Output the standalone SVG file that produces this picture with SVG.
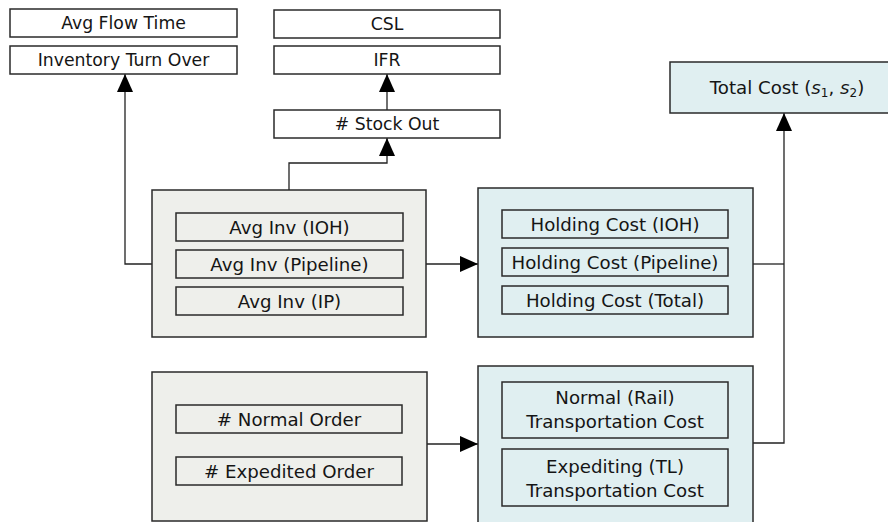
<svg xmlns="http://www.w3.org/2000/svg" width="888" height="522" viewBox="0 0 888 522">
<style>
.t{font-family:"DejaVu Sans","Liberation Sans",sans-serif;font-size:17.3px;fill:#151515;text-anchor:middle}
.i{font-size:18.2px}
.box{fill:#ffffff;stroke:#2a2a2a;stroke-width:1.5}
.gray{fill:#eeefeb;stroke:#2a2a2a;stroke-width:1.5}
.blue{fill:#e0eff1;stroke:#2a2a2a;stroke-width:1.5}
.inG{fill:#eeefeb;stroke:#2a2a2a;stroke-width:1.5}
.inB{fill:#e0eff1;stroke:#2a2a2a;stroke-width:1.5}
.c{fill:none;stroke:#222;stroke-width:1.3}
</style>
<defs>
<marker id="ah" markerUnits="userSpaceOnUse" markerWidth="18" markerHeight="16" refX="18" refY="8" orient="auto">
<path d="M0,0 L18,8 L0,16 Z" fill="#000"/>
</marker>
</defs>
<rect width="888" height="522" fill="#ffffff"/>
<g id="connectors">
<path class="c" d="M387,110 V74" marker-end="url(#ah)"/>
<path class="c" d="M289,190 V163 H387 V138" marker-end="url(#ah)"/>
<path class="c" d="M152,264 H125 V74" marker-end="url(#ah)"/>
<path class="c" d="M426,264 H478" marker-end="url(#ah)"/>
<path class="c" d="M427,444 H478" marker-end="url(#ah)"/>
<path class="c" d="M753,264 H784"/>
<path class="c" d="M753,443 H784 V113" marker-end="url(#ah)"/>
</g>
<g id="avg-flow-time"><rect class="box" x="10" y="9" width="227" height="28"/><text class="t" x="123.5" y="29">Avg Flow Time</text></g>
<g id="inventory-turn-over"><rect class="box" x="10" y="46" width="227" height="28"/><text class="t" x="123.5" y="66">Inventory Turn Over</text></g>
<g id="csl"><rect class="box" x="274" y="10" width="226" height="28"/><text class="t" x="387" y="30">CSL</text></g>
<g id="ifr"><rect class="box" x="274" y="46" width="226" height="28"/><text class="t" x="387" y="66">IFR</text></g>
<g id="stock-out"><rect class="box" x="274" y="110" width="226" height="28"/><text class="t" x="387" y="130"># Stock Out</text></g>
<g id="total-cost"><rect class="blue" x="670" y="62" width="230" height="51"/><text class="t i" x="787" y="94">Total Cost (<tspan font-style="italic">s</tspan><tspan font-size="12" dy="3">1</tspan><tspan dy="-3">, </tspan><tspan font-style="italic">s</tspan><tspan font-size="12" dy="3">2</tspan><tspan dy="-3">)</tspan></text></g>
<g id="inventory-group">
<rect class="gray" x="152" y="190" width="274" height="147"/>
<rect class="inG" x="176" y="213" width="227" height="28"/><text class="t i" x="289.5" y="233.5">Avg Inv (IOH)</text>
<rect class="inG" x="176" y="250" width="227" height="28"/><text class="t i" x="289.5" y="270.5">Avg Inv (Pipeline)</text>
<rect class="inG" x="176" y="287" width="227" height="28"/><text class="t i" x="289.5" y="307.5">Avg Inv (IP)</text>
</g>
<g id="holding-cost-group">
<rect class="blue" x="478" y="188" width="275" height="149"/>
<rect class="inB" x="502" y="210" width="226" height="28"/><text class="t i" x="615" y="230.5">Holding Cost (IOH)</text>
<rect class="inB" x="502" y="248" width="226" height="28"/><text class="t i" x="615" y="268.5">Holding Cost (Pipeline)</text>
<rect class="inB" x="502" y="286" width="226" height="28"/><text class="t i" x="615" y="306.5">Holding Cost (Total)</text>
</g>
<g id="order-group">
<rect class="gray" x="152" y="372" width="275" height="149"/>
<rect class="inG" x="176" y="405" width="226" height="28"/><text class="t i" x="289" y="425.5"># Normal Order</text>
<rect class="inG" x="176" y="457" width="226" height="28"/><text class="t i" x="289" y="477.5"># Expedited Order</text>
</g>
<g id="transport-cost-group">
<rect class="blue" x="478" y="366" width="275" height="160"/>
<rect class="inB" x="502" y="382" width="226" height="56"/><text class="t i" x="615" y="404">Normal (Rail)</text><text class="t i" x="615" y="428">Transportation Cost</text>
<rect class="inB" x="502" y="449" width="226" height="57"/><text class="t i" x="615" y="473">Expediting (TL)</text><text class="t i" x="615" y="497">Transportation Cost</text>
</g>
</svg>
